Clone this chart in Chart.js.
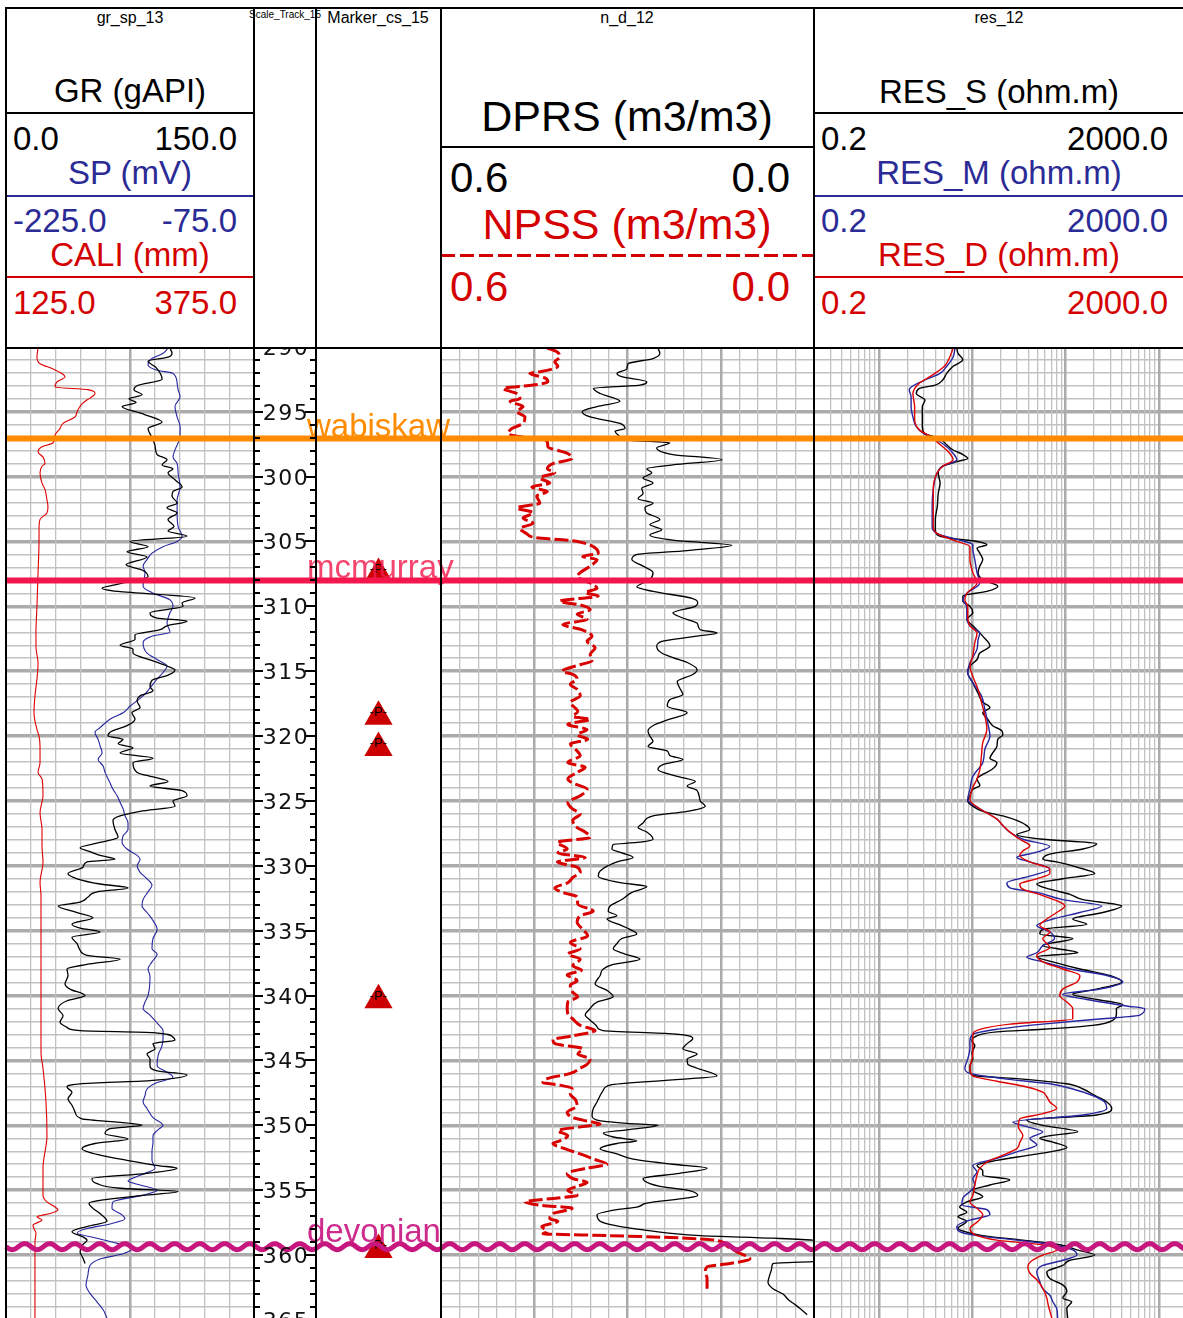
<!DOCTYPE html>
<html lang="en">
<head>
<meta charset="UTF-8" />
<title>Well log</title>
<script src="https://cdn.jsdelivr.net/npm/chart.js"></script>
<style>
  html, body { margin: 0; padding: 0; background: #fff; overflow: hidden; }
  body { font-family: "Liberation Sans", Arial, sans-serif; color: #000; }
  #log { position: relative; width: 1187px; height: 1318px; }
  .txt { position: absolute; white-space: nowrap; line-height: 1; transform: translate(-50%, -50%); }
  .txt.l { transform: translate(0, -50%); }
  .txt.r { transform: translate(-100%, -50%); }
  .sm { font-size: 16px; }
  .md { font-size: 33px; }
  .lg { font-size: 42px; }
  .ttl { font-size: 43px; }
  .blue { color: #2b2b96; }
  .red { color: #d40000; }
  .rule { position: absolute; height: 2px; }
  .frame { position: absolute; background: #000; z-index: 5; }
  canvas { position: absolute; top: 348px; }
</style>
</head>
<body>
<div id="log">
  <!-- gr_sp_13 -->
  <div class="txt sm" style="left:130px;top:18px">gr_sp_13</div>
  <div class="txt md" style="left:130px;top:90px">GR (gAPI)</div>
  <div class="rule" style="left:6px;top:112px;width:248px;background:#000"></div>
  <div class="txt md l" style="left:13px;top:137.5px">0.0</div>
  <div class="txt md r" style="left:237px;top:137.5px">150.0</div>
  <div class="txt md blue" style="left:130px;top:172px">SP (mV)</div>
  <div class="rule" style="left:6px;top:195px;width:248px;background:#2b2b96"></div>
  <div class="txt md l blue" style="left:13px;top:219.5px">-225.0</div>
  <div class="txt md r blue" style="left:237px;top:219.5px">-75.0</div>
  <div class="txt md red" style="left:130px;top:253.5px">CALI (mm)</div>
  <div class="rule" style="left:6px;top:276px;width:248px;background:#d40000"></div>
  <div class="txt md l red" style="left:13px;top:301.5px">125.0</div>
  <div class="txt md r red" style="left:237px;top:301.5px">375.0</div>

  <!-- depth scale / markers -->
  <div class="txt" style="left:285px;top:15px;font-size:10px">Scale_Track_15</div>
  <div class="txt sm" style="left:378px;top:18px">Marker_cs_15</div>

  <!-- n_d_12 -->
  <div class="txt sm" style="left:627px;top:18px">n_d_12</div>
  <div class="txt ttl" style="left:627px;top:116px">DPRS (m3/m3)</div>
  <div class="rule" style="left:441px;top:146px;width:373px;background:#000"></div>
  <div class="txt lg l" style="left:450px;top:178px">0.6</div>
  <div class="txt lg r" style="left:790px;top:178px">0.0</div>
  <div class="txt ttl red" style="left:627px;top:224px">NPSS (m3/m3)</div>
  <div class="rule" style="left:441px;top:254px;width:373px;height:3px;background:repeating-linear-gradient(to right,#d40000 0 14px,transparent 14px 19px)"></div>
  <div class="txt lg l red" style="left:450px;top:287px">0.6</div>
  <div class="txt lg r red" style="left:790px;top:287px">0.0</div>

  <!-- res_12 -->
  <div class="txt sm" style="left:999px;top:18px">res_12</div>
  <div class="txt md" style="left:999px;top:90.5px">RES_S (ohm.m)</div>
  <div class="rule" style="left:814px;top:112px;width:373px;background:#000"></div>
  <div class="txt md l" style="left:821px;top:138px">0.2</div>
  <div class="txt md r" style="left:1168px;top:138px">2000.0</div>
  <div class="txt md blue" style="left:999px;top:172px">RES_M (ohm.m)</div>
  <div class="rule" style="left:814px;top:195px;width:373px;background:#2b2b96"></div>
  <div class="txt md l blue" style="left:821px;top:220px">0.2</div>
  <div class="txt md r blue" style="left:1168px;top:220px">2000.0</div>
  <div class="txt md red" style="left:999px;top:254px">RES_D (ohm.m)</div>
  <div class="rule" style="left:814px;top:276px;width:373px;background:#d40000"></div>
  <div class="txt md l red" style="left:821px;top:301.5px">0.2</div>
  <div class="txt md r red" style="left:1168px;top:301.5px">2000.0</div>

  <canvas id="grTrack" width="248" height="970" style="left:6px"></canvas>
  <canvas id="markerTrack" width="125" height="970" style="left:316px"></canvas>
  <canvas id="ndTrack" width="373" height="970" style="left:441px"></canvas>
  <canvas id="resTrack" width="373" height="970" style="left:814px"></canvas>
  <canvas id="tops" width="1187" height="970" style="left:0;z-index:3"></canvas>
  <canvas id="scaleTrack" width="62" height="970" style="left:254px;z-index:4"></canvas>

  <div class="frame" style="left:5px;top:7px;width:1182px;height:2px"></div>
  <div class="frame" style="left:5px;top:347px;width:1182px;height:2px"></div>
  <div class="frame" style="left:5px;top:7px;width:2px;height:1311px"></div>
  <div class="frame" style="left:253px;top:7px;width:2px;height:1311px"></div>
  <div class="frame" style="left:315px;top:7px;width:2px;height:1311px"></div>
  <div class="frame" style="left:440px;top:7px;width:2px;height:1311px"></div>
  <div class="frame" style="left:813px;top:7px;width:2px;height:1311px"></div>
</div>

<script>
// depth window shown (m)
const DEPTH_TOP = 290.09, DEPTH_BASE = 364.85;
const depthLabels = [290, 295, 300, 305, 310, 315, 320, 325, 330, 335, 340, 345, 350, 355, 360, 365];

// GR (gAPI)
const grDepth = [
  290.1, 290.5, 290.8, 291.1, 291.6, 292.5, 293.0, 293.3, 293.7, 294.0,
  294.3, 294.6, 295.2, 295.8, 296.3, 297.0, 297.6, 298.3, 298.7, 299.1,
  299.4, 299.7, 300.25, 300.8, 301.15, 301.5, 302.05, 302.4, 302.8, 303.3,
  303.85, 304.2, 304.6, 305.0, 305.4, 305.8, 306.2, 306.8, 307.2, 307.7,
  308.3, 308.6, 308.85, 309.35, 309.75, 310.0, 310.5, 310.9, 311.15, 311.5,
  311.8, 312.2, 312.55, 313.0, 313.3, 313.6, 314.2, 314.6, 314.9, 315.3,
  315.7, 316.2, 316.5, 316.9, 317.3, 317.8, 318.2, 318.7, 319.2, 319.7,
  320.0, 320.25, 320.6, 320.9, 321.3, 321.7, 322.05, 322.8, 323.15, 323.5,
  323.85, 324.2, 324.6, 325.0, 325.4, 325.8, 326.15, 326.5, 327.2, 327.8,
  328.2, 328.6, 328.9, 329.2, 329.5, 329.7, 330.1, 330.6, 331.0, 331.4,
  331.7, 332.0, 332.4, 332.8, 333.1, 333.6, 334.0, 334.5, 334.8, 335.1,
  335.5, 336.0, 336.5, 336.9, 337.2, 337.6, 337.95, 338.45, 339.1, 339.5,
  340.0, 340.4, 341.0, 341.55, 342.05, 342.45, 342.7, 342.85, 343.2, 343.45,
  343.7, 344.1, 344.5, 344.9, 345.4, 345.8, 346.1, 346.55, 346.8, 347.05,
  347.45, 347.95, 348.45, 348.95, 349.5, 349.75, 350.0, 350.25, 350.65, 351.05,
  351.4, 351.8, 352.3, 352.7, 353.1, 353.3, 353.7, 354.1, 354.5, 354.85,
  355.1, 355.4, 355.75, 356.0, 356.4, 356.8, 357.4, 357.8, 358.2, 358.6,
  358.85, 359.25, 359.75, 360.25, 360.65
];
const grValue = [
  99.2, 100.4, 98.0, 85.9, 90.8, 94.4, 79.3, 77.4, 82.3, 74.4,
  78.7, 70.2, 83.5, 94.4, 85.9, 88.3, 90.1, 91.4, 97.4, 94.4,
  101.0, 98.0, 102.2, 106.5, 101.0, 100.4, 103.5, 97.4, 103.5, 98.0,
  101.6, 98.0, 109.5, 75.0, 85.9, 73.2, 85.3, 72.6, 82.3, 85.9,
  67.2, 58.1, 67.8, 114.3, 106.5, 107.1, 87.1, 91.4, 109.5, 97.4,
  93.2, 78.0, 78.0, 69.0, 76.8, 76.8, 88.9, 97.4, 102.2, 98.0,
  88.3, 87.1, 88.9, 81.1, 79.3, 81.1, 76.2, 78.0, 73.2, 62.9,
  61.7, 70.8, 67.8, 76.8, 69.0, 88.9, 76.8, 79.3, 88.9, 98.0,
  87.1, 106.5, 109.5, 101.0, 102.2, 81.1, 69.0, 64.7, 65.9, 67.8,
  56.9, 44.8, 50.8, 56.9, 65.9, 49.0, 46.6, 37.5, 43.0, 56.9,
  73.8, 55.1, 49.6, 44.8, 31.5, 43.0, 52.6, 39.9, 44.8, 56.9,
  39.9, 43.0, 44.8, 49.0, 69.0, 49.0, 36.9, 37.5, 35.7, 38.7,
  47.8, 36.9, 31.5, 34.5, 32.7, 36.9, 44.8, 88.9, 101.0, 102.2,
  88.9, 90.1, 85.3, 87.1, 87.1, 91.4, 109.5, 87.1, 44.8, 36.9,
  39.9, 37.5, 39.9, 41.7, 46.0, 67.2, 82.3, 62.9, 59.9, 73.8,
  53.8, 46.0, 56.9, 73.2, 92.0, 103.5, 85.3, 52.0, 55.1, 69.0,
  104.1, 82.9, 58.7, 50.2, 52.6, 56.9, 61.1, 49.0, 39.9, 46.6,
  49.0, 46.0, 44.8, 46.6, 47.8
];

// SP (mV)
const spDepth = [
  290.1, 290.5, 291.0, 291.4, 291.8, 292.05, 292.8, 293.3, 293.85, 294.6,
  295.4, 296.15, 296.9, 297.4, 297.95, 298.5, 299.0, 299.7, 300.8, 301.8,
  302.8, 303.85, 304.6, 305.0, 305.4, 305.9, 306.4, 306.9, 307.4, 308.45,
  308.95, 309.5, 310.0, 310.5, 311.3, 312.0, 312.3, 312.8, 313.6, 314.1,
  314.6, 315.1, 315.6, 316.3, 316.9, 317.7, 318.2, 318.7, 319.35, 319.7,
  320.25, 320.75, 321.3, 321.8, 322.3, 322.8, 323.6, 324.1, 324.6, 325.1,
  325.6, 326.15, 326.7, 327.2, 327.7, 328.2, 328.7, 329.2, 329.5, 330.0,
  330.5, 331.0, 331.5, 332.0, 332.6, 333.1, 333.6, 334.1, 334.9, 335.6,
  336.4, 336.8, 337.4, 337.95, 338.5, 340.0, 340.5, 341.0, 341.5, 342.2,
  342.7, 343.2, 343.85, 344.6, 345.4, 345.9, 346.3, 346.7, 347.2, 347.7,
  348.2, 348.7, 349.4, 350.0, 350.4, 350.8, 351.3, 352.0, 352.7, 353.3,
  353.85, 354.3, 354.6, 355.0, 355.4, 355.9, 356.4, 356.9, 357.2, 357.6,
  357.95, 358.3, 358.7, 359.1, 359.5, 359.9, 360.3, 360.8, 361.5, 362.3,
  362.95, 363.6, 364.2, 364.85
];
const spValue = [
  -127.0, -130.0, -137.9, -139.1, -133.6, -124.0, -121.5, -120.9, -119.7, -122.8,
  -121.5, -119.7, -119.7, -120.9, -122.8, -124.0, -121.5, -120.9, -119.7, -121.5,
  -121.5, -120.9, -118.5, -121.5, -130.0, -136.7, -139.7, -142.1, -140.9, -142.1,
  -136.7, -125.8, -124.0, -125.8, -127.6, -125.8, -136.7, -142.1, -139.7, -133.6,
  -127.6, -130.0, -133.6, -137.9, -142.1, -150.0, -154.2, -162.1, -168.1, -171.2,
  -169.3, -168.1, -166.9, -169.3, -166.3, -165.1, -162.1, -160.3, -157.8, -156.0,
  -154.2, -153.0, -151.2, -151.2, -154.2, -154.8, -151.8, -145.7, -143.9, -145.7,
  -143.9, -139.7, -136.7, -139.1, -142.1, -142.7, -139.7, -136.7, -133.6, -136.1,
  -136.7, -133.6, -136.7, -139.1, -137.9, -139.1, -140.9, -142.1, -137.9, -133.0,
  -130.0, -130.0, -130.6, -133.0, -133.6, -127.6, -124.0, -133.6, -139.7, -140.9,
  -142.1, -139.7, -136.1, -130.0, -133.6, -136.1, -136.1, -136.7, -136.7, -134.9,
  -143.9, -151.2, -143.9, -133.6, -142.7, -160.3, -160.9, -154.8, -153.0, -162.1,
  -176.0, -182.0, -169.9, -157.8, -148.8, -154.2, -168.1, -174.2, -175.4, -176.6,
  -174.2, -170.0, -166.3, -163.9
];

// CALI (mm)
const caliDepth = [
  290.1, 290.8, 291.3, 291.7, 292.05, 292.3, 292.7, 293.1, 293.3, 293.6,
  293.85, 294.1, 294.4, 294.6, 295.0, 295.4, 295.9, 296.3, 296.8, 297.4,
  297.7, 298.1, 298.5, 299.0, 299.2, 299.7, 300.5, 301.0, 301.8, 302.3,
  302.8, 303.3, 303.85, 304.9, 307.4, 310.0, 312.0, 313.1, 314.4, 315.6,
  316.9, 318.2, 319.5, 320.0, 320.8, 322.05, 322.8, 323.3, 324.6, 325.9,
  327.2, 328.5, 329.7, 331.3, 332.3, 334.9, 338.5, 344.4, 345.6, 348.2,
  350.8, 353.3, 355.4, 355.9, 356.3, 356.5, 356.8, 357.05, 357.3, 357.7,
  357.95, 358.3, 359.0, 361.0, 364.85
];
const caliValue = [
  157.3, 156.2, 159.3, 172.4, 181.4, 184.5, 176.4, 174.4, 207.7, 214.7,
  211.7, 206.6, 201.6, 199.6, 196.6, 194.6, 182.5, 179.4, 174.4, 172.4,
  161.3, 157.3, 162.3, 164.3, 161.3, 159.3, 161.3, 164.3, 166.3, 167.3,
  166.3, 159.3, 158.3, 158.3, 157.3, 156.2, 155.2, 155.2, 157.3, 156.2,
  154.2, 153.2, 156.2, 158.3, 159.3, 159.3, 157.3, 161.3, 162.3, 159.3,
  161.3, 161.3, 162.3, 159.3, 160.3, 160.3, 160.3, 160.3, 162.3, 165.3,
  166.3, 162.3, 162.3, 166.3, 174.4, 177.4, 169.4, 156.2, 161.3, 152.2,
  153.2, 155.2, 154.2, 154.2, 154.2
];

// DPRS (m3/m3)
const dprsDepth = [
  290.1, 290.5, 290.9, 291.3, 291.7, 292.05, 292.3, 292.7, 292.95, 293.2,
  293.6, 294.2, 294.6, 295.0, 295.4, 295.9, 296.3, 296.5, 296.8, 297.2,
  297.4, 297.8, 298.3, 298.7, 299.1, 299.4, 299.7, 300.1, 300.5, 300.9,
  301.3, 301.7, 302.05, 302.4, 302.8, 303.3, 303.7, 304.1, 304.5, 304.9,
  305.3, 305.7, 306.0, 306.4, 306.9, 307.4, 307.95, 308.5, 308.85, 309.4,
  309.75, 310.0, 310.5, 310.9, 311.3, 311.8, 312.05, 312.3, 312.7, 313.1,
  313.6, 313.95, 314.35, 314.9, 315.25, 315.8, 316.3, 316.8, 317.2, 317.7,
  318.2, 318.7, 319.2, 319.6, 320.0, 320.4, 320.8, 321.15, 321.5, 321.8,
  322.2, 322.6, 323.1, 323.5, 323.85, 324.2, 325.0, 325.4, 325.8, 326.15,
  326.7, 327.05, 327.4, 327.95, 328.2, 328.35, 328.7, 329.0, 329.35, 329.7,
  330.4, 330.8, 331.3, 331.6, 332.05, 332.6, 333.1, 333.5, 333.85, 334.1,
  334.5, 334.9, 335.25, 335.6, 336.0, 336.4, 336.8, 337.2, 337.6, 337.95,
  338.45, 339.1, 339.6, 340.1, 340.5, 341.0, 341.5, 341.9, 342.4, 342.7,
  342.95, 343.3, 343.7, 344.1, 344.5, 344.9, 345.3, 345.6, 346.2, 346.5,
  346.9, 347.3, 347.7, 348.2, 348.7, 349.25, 349.6, 349.85, 350.0, 350.35,
  350.6, 350.9, 351.2, 351.4, 351.8, 352.2, 352.6, 353.0, 353.3, 353.7,
  354.1, 354.5, 354.7, 355.0, 355.4, 355.6, 356.0, 356.3, 356.5, 356.9,
  357.4, 357.7, 358.1, 358.5, 358.7, 358.85, 359.3, 359.9, 360.5, 360.65,
  361.0, 361.5, 362.1, 362.6, 363.0, 363.4, 363.7, 364.1, 364.6
];
const dprsValue = [
  0.251, 0.248, 0.259, 0.299, 0.301, 0.317, 0.309, 0.269, 0.280, 0.355,
  0.344, 0.312, 0.349, 0.373, 0.360, 0.312, 0.304, 0.320, 0.315, 0.296,
  0.232, 0.253, 0.227, 0.148, 0.227, 0.269, 0.261, 0.275, 0.259, 0.277,
  0.275, 0.283, 0.259, 0.272, 0.269, 0.248, 0.264, 0.245, 0.264, 0.227,
  0.132, 0.204, 0.285, 0.293, 0.275, 0.259, 0.264, 0.285, 0.259, 0.195,
  0.187, 0.191, 0.227, 0.211, 0.188, 0.183, 0.156, 0.188, 0.245, 0.253,
  0.245, 0.227, 0.203, 0.188, 0.195, 0.220, 0.216, 0.211, 0.232, 0.236,
  0.204, 0.232, 0.259, 0.267, 0.264, 0.259, 0.267, 0.236, 0.232, 0.211,
  0.243, 0.251, 0.220, 0.191, 0.204, 0.188, 0.183, 0.175, 0.204, 0.259,
  0.275, 0.283, 0.269, 0.259, 0.285, 0.323, 0.325, 0.309, 0.291, 0.317,
  0.344, 0.347, 0.312, 0.269, 0.293, 0.309, 0.328, 0.331, 0.317, 0.333,
  0.315, 0.296, 0.285, 0.309, 0.317, 0.323, 0.304, 0.280, 0.323, 0.339,
  0.344, 0.352, 0.333, 0.323, 0.349, 0.360, 0.368, 0.360, 0.349, 0.339,
  0.227, 0.195, 0.204, 0.211, 0.188, 0.204, 0.203, 0.188, 0.156, 0.227,
  0.328, 0.339, 0.344, 0.349, 0.355, 0.357, 0.349, 0.301, 0.251, 0.301,
  0.339, 0.323, 0.285, 0.317, 0.344, 0.317, 0.291, 0.227, 0.172, 0.216,
  0.275, 0.264, 0.248, 0.204, 0.187, 0.204, 0.269, 0.285, 0.317, 0.349,
  0.344, 0.323, 0.269, 0.183, 0.066, 0.003, -0.026, -0.034, 0.003, 0.066,
  0.068, 0.071, 0.074, 0.066, 0.050, 0.042, 0.034, 0.023, 0.011
];

// NPSS (m3/m3)
const npssDepth = [
  290.1, 290.4, 290.8, 291.15, 291.5, 291.9, 292.05, 292.4, 292.7, 292.95,
  293.2, 293.6, 294.0, 294.2, 294.6, 295.0, 295.4, 295.9, 296.3, 296.7,
  297.3, 297.7, 298.2, 298.6, 299.0, 299.4, 299.7, 300.1, 300.5, 300.8,
  301.15, 301.5, 302.05, 302.4, 302.8, 303.2, 303.6, 304.0, 304.4, 304.7,
  304.9, 305.05, 305.4, 305.9, 306.15, 306.4, 306.9, 307.4, 307.7, 308.2,
  308.6, 308.95, 309.2, 309.6, 309.9, 310.25, 310.6, 311.0, 311.4, 311.8,
  312.3, 312.7, 313.2, 313.7, 314.2, 314.5, 315.0, 315.25, 315.6, 316.0,
  316.4, 316.9, 317.4, 318.1, 318.5, 318.7, 319.1, 319.5, 319.9, 320.25,
  320.6, 321.15, 321.5, 322.05, 322.4, 322.8, 323.3, 323.6, 324.1, 324.6,
  325.1, 325.6, 326.0, 326.5, 327.05, 327.4, 327.8, 328.2, 328.7, 329.0,
  329.35, 329.7, 330.1, 330.5, 330.9, 331.3, 331.7, 332.05, 332.4, 332.95,
  333.5, 333.85, 334.35, 334.9, 335.4, 335.9, 336.4, 336.8, 337.2, 337.7,
  338.05, 338.4, 338.85, 339.2, 339.75, 340.1, 340.5, 341.0, 341.4, 341.8,
  342.3, 342.7, 343.1, 343.4, 343.7, 344.1, 344.5, 344.9, 345.3, 345.6,
  346.0, 346.4, 346.7, 346.9, 347.2, 347.6, 348.0, 348.5, 349.0, 349.4,
  349.6, 349.9, 350.1, 350.4, 350.8, 351.2, 351.4, 351.8, 352.2, 352.6,
  353.0, 353.3, 353.7, 354.1, 354.4, 354.7, 355.0, 355.4, 355.6, 355.9,
  356.15, 356.4, 356.8, 357.2, 357.4, 357.8, 358.2, 358.35, 358.5, 358.65,
  358.85, 359.3, 359.75, 360.3, 360.65, 360.9, 361.3, 361.8, 362.3, 362.8
];
const npssValue = [
  0.429, 0.413, 0.409, 0.417, 0.412, 0.438, 0.457, 0.433, 0.428, 0.452,
  0.500, 0.478, 0.473, 0.489, 0.468, 0.478, 0.465, 0.468, 0.486, 0.492,
  0.429, 0.428, 0.397, 0.389, 0.420, 0.429, 0.417, 0.441, 0.425, 0.454,
  0.429, 0.446, 0.441, 0.478, 0.452, 0.468, 0.452, 0.473, 0.462, 0.449,
  0.397, 0.376, 0.355, 0.347, 0.372, 0.349, 0.360, 0.376, 0.381, 0.360,
  0.349, 0.368, 0.347, 0.409, 0.376, 0.360, 0.381, 0.365, 0.404, 0.374,
  0.357, 0.365, 0.352, 0.360, 0.357, 0.376, 0.405, 0.388, 0.381, 0.392,
  0.381, 0.376, 0.392, 0.380, 0.388, 0.360, 0.396, 0.365, 0.381, 0.364,
  0.392, 0.381, 0.376, 0.396, 0.368, 0.381, 0.396, 0.389, 0.365, 0.376,
  0.396, 0.389, 0.376, 0.388, 0.381, 0.368, 0.360, 0.413, 0.397, 0.412,
  0.368, 0.413, 0.381, 0.376, 0.388, 0.396, 0.417, 0.404, 0.381, 0.380,
  0.355, 0.376, 0.381, 0.372, 0.364, 0.392, 0.376, 0.396, 0.376, 0.388,
  0.374, 0.397, 0.381, 0.392, 0.388, 0.380, 0.396, 0.397, 0.396, 0.388,
  0.376, 0.352, 0.388, 0.420, 0.417, 0.372, 0.380, 0.360, 0.365, 0.376,
  0.392, 0.429, 0.436, 0.409, 0.389, 0.392, 0.384, 0.381, 0.397, 0.388,
  0.372, 0.344, 0.372, 0.412, 0.396, 0.409, 0.420, 0.401, 0.376, 0.355,
  0.333, 0.365, 0.397, 0.388, 0.365, 0.381, 0.396, 0.381, 0.412, 0.465,
  0.441, 0.389, 0.420, 0.425, 0.412, 0.438, 0.429, 0.436, 0.330, 0.230,
  0.160, 0.140, 0.124, 0.103, 0.135, 0.172, 0.175, 0.172, 0.172, 0.172
];

// RES_S (ohm.m)
const resSDepth = [
  290.1, 290.5, 291.0, 291.5, 292.05, 292.55, 292.95, 293.2, 293.6, 294.1,
  294.6, 296.15, 296.7, 296.9, 297.2, 297.55, 297.95, 298.3, 298.6, 298.85,
  299.2, 299.75, 300.5, 301.3, 302.3, 303.3, 304.1, 304.5, 304.75, 305.0,
  305.25, 305.5, 305.9, 306.4, 306.9, 307.4, 307.95, 308.45, 308.85, 309.2,
  309.6, 310.0, 310.5, 311.0, 311.5, 312.05, 312.3, 313.05, 313.6, 314.1,
  314.6, 315.1, 315.9, 316.7, 317.4, 317.8, 318.2, 318.7, 319.2, 319.6,
  319.9, 320.25, 320.8, 321.3, 321.7, 322.05, 322.6, 322.95, 323.3, 323.8,
  324.1, 324.6, 325.0, 325.4, 325.8, 326.15, 326.5, 326.9, 327.2, 327.6,
  327.95, 328.3, 328.7, 329.1, 329.5, 329.7, 330.1, 330.6, 331.0, 331.4,
  331.8, 332.2, 332.6, 333.1, 333.6, 334.1, 334.5, 334.9, 335.25, 335.6,
  336.15, 336.7, 337.0, 337.4, 337.95, 338.45, 338.95, 339.5, 339.9, 340.3,
  340.7, 341.0, 341.4, 341.9, 342.3, 342.6, 342.8, 343.1, 343.5, 343.85,
  344.4, 344.9, 345.4, 345.8, 346.15, 346.4, 346.8, 347.2, 347.7, 348.2,
  348.7, 349.2, 349.6, 350.0, 350.5, 350.8, 351.0, 351.3, 351.7, 352.05,
  352.3, 352.7, 353.1, 353.5, 353.85, 354.2, 354.6, 355.0, 355.5, 355.9,
  356.3, 356.7, 357.05, 357.4, 357.95, 358.3, 358.5, 358.85, 359.2, 359.6,
  360.0, 360.4, 360.8, 361.3, 361.8, 362.3, 362.8, 363.3, 363.6, 364.1,
  364.85
];
const resSValue = [
  6.8, 7.0, 7.9, 6.2, 5.3, 4.8, 4.0, 2.7, 2.5, 3.1,
  2.9, 2.9, 3.1, 3.8, 4.7, 5.3, 6.2, 7.9, 8.9, 6.8,
  4.8, 4.3, 4.5, 4.3, 4.2, 4.0, 4.0, 4.2, 5.7, 11.2,
  14.3, 11.2, 12.0, 12.9, 12.0, 11.5, 12.9, 18.7, 14.3, 7.9,
  7.9, 9.4, 10.1, 8.7, 10.1, 12.0, 12.9, 15.4, 12.0, 11.2,
  9.4, 8.9, 10.1, 11.5, 12.9, 15.4, 12.9, 14.6, 16.5, 20.7,
  21.2, 18.7, 18.3, 16.5, 15.4, 18.3, 16.0, 12.9, 11.2, 12.0,
  10.1, 9.4, 8.9, 10.1, 12.9, 21.2, 29.9, 38.3, 41.3, 29.9,
  56.8, 215, 153, 67.6, 56.8, 80, 132, 205, 93, 49,
  67.6, 111, 153, 399, 250, 119, 168, 56.8, 52.8, 119,
  56.8, 135, 49, 72.8, 142, 297, 399, 215, 119, 215,
  409, 350, 350, 320, 195, 56.8, 18.3, 11.2, 9.9, 10.6,
  9.9, 10.1, 9.4, 9.4, 10.1, 29.9, 103, 153, 205, 276,
  312, 215, 38.3, 56.8, 135, 67.6, 52.8, 72.8, 103, 67.6,
  41.3, 18.3, 11.2, 12.9, 12.9, 25.2, 15.4, 10.1, 12.9, 8.7,
  7.3, 8.7, 7.0, 8.7, 7.0, 9.4, 12.9, 34.7, 86.5, 132,
  205, 111, 93, 62.7, 67.6, 93, 103, 93, 116, 103,
  105
];

// RES_M (ohm.m)
const resMDepth = [
  290.1, 290.8, 291.5, 292.05, 292.6, 293.3, 293.85, 294.6, 295.4, 296.15,
  296.7, 297.2, 297.7, 298.2, 298.7, 299.2, 299.7, 301.0, 302.3, 303.85,
  304.4, 304.9, 305.25, 305.6, 306.4, 307.4, 308.2, 309.0, 309.5, 310.0,
  310.8, 311.5, 312.05, 312.55, 313.3, 314.35, 315.1, 315.9, 316.9, 317.95,
  319.0, 320.0, 321.0, 322.05, 323.1, 324.1, 324.9, 325.6, 326.4, 326.9,
  327.4, 327.95, 328.5, 328.95, 329.35, 329.7, 330.25, 330.8, 331.3, 331.7,
  332.05, 332.6, 333.1, 333.6, 334.1, 334.6, 335.1, 335.6, 336.15, 336.7,
  337.05, 337.4, 337.95, 338.45, 338.95, 339.5, 339.9, 340.3, 340.8, 341.0,
  341.5, 341.8, 342.2, 342.6, 343.0, 343.5, 344.1, 344.9, 345.6, 346.0,
  346.4, 346.8, 347.2, 347.7, 348.2, 348.7, 349.2, 349.75, 350.1, 350.5,
  351.0, 351.5, 352.05, 352.55, 353.1, 353.6, 354.1, 354.6, 355.1, 355.6,
  356.15, 356.5, 356.9, 357.3, 357.8, 358.2, 358.5, 358.85, 359.2, 359.6,
  360.0, 360.4, 360.8, 361.3, 362.05, 362.6, 363.1, 363.6, 364.1, 364.85
];
const resMValue = [
  6.5, 6.2, 5.3, 4.5, 3.0, 2.1, 2.2, 2.2, 2.3, 2.5,
  3.0, 4.2, 5.3, 6.2, 6.8, 4.8, 4.2, 3.8, 3.7, 3.7,
  4.2, 7.3, 10.1, 10.1, 10.6, 11.2, 12.0, 8.7, 7.9, 8.7,
  8.7, 9.4, 12.0, 11.5, 11.2, 9.4, 8.9, 10.1, 12.5, 13.6,
  14.6, 15.4, 13.6, 12.9, 10.1, 9.4, 8.9, 12.0, 18.3, 21.2,
  25.2, 34.7, 67.6, 49, 29.9, 41.3, 67.6, 41.3, 23.4, 25.2,
  49, 93, 244, 142, 72.8, 49, 67.6, 76, 56.8, 49,
  38.3, 56.8, 111, 276, 409, 232, 93, 168, 450, 704,
  625, 232, 56.8, 18.3, 10.1, 9.4, 9.4, 8.9, 8.3, 9.4,
  21.2, 67.6, 119, 195, 262, 276, 153, 27.1, 38.3, 56.8,
  41.3, 49, 29.9, 18.3, 10.1, 11.2, 10.1, 10.6, 9.4, 7.9,
  7.7, 14.3, 15.4, 9.4, 6.8, 7.3, 11.2, 29.9, 72.8, 119,
  132, 93, 56.8, 49, 52.8, 56.8, 67.6, 72.8, 80, 82
];

// RES_D (ohm.m)
const resDDepth = [
  290.1, 290.8, 291.5, 292.3, 292.8, 293.6, 294.6, 295.6, 296.4, 296.9,
  297.7, 298.2, 298.7, 299.2, 299.7, 301.0, 302.3, 303.85, 304.4, 304.9,
  305.4, 306.4, 307.4, 308.2, 309.0, 309.5, 310.0, 310.8, 311.5, 312.05,
  312.8, 313.8, 314.6, 315.4, 316.4, 317.4, 318.45, 319.5, 320.5, 321.5,
  322.6, 323.3, 324.1, 324.9, 325.6, 326.4, 326.9, 327.4, 327.95, 328.45,
  328.85, 329.2, 329.7, 330.25, 330.6, 331.0, 331.4, 331.8, 332.3, 333.1,
  333.6, 334.1, 334.6, 335.1, 335.6, 336.3, 336.9, 337.4, 337.95, 338.45,
  338.95, 339.5, 340.0, 340.5, 341.0, 341.8, 342.2, 342.6, 343.0, 343.6,
  344.4, 344.9, 345.6, 346.2, 346.6, 347.05, 347.45, 347.8, 348.2, 348.7,
  349.1, 349.5, 350.1, 350.8, 351.3, 351.8, 352.3, 352.7, 353.3, 353.85,
  354.6, 355.4, 355.9, 356.4, 356.9, 357.4, 357.95, 358.5, 358.85, 359.2,
  359.6, 360.0, 360.4, 360.9, 361.4, 361.9, 362.55, 363.3, 363.85, 364.85
];
const resDValue = [
  6.2, 5.7, 5.0, 3.5, 2.7, 2.3, 2.4, 2.4, 2.7, 3.5,
  4.8, 5.7, 6.2, 4.8, 4.2, 3.8, 3.8, 3.8, 4.2, 6.2,
  9.4, 9.4, 10.1, 11.2, 8.7, 8.3, 8.9, 8.9, 9.4, 11.2,
  10.6, 10.1, 9.4, 10.1, 11.5, 12.5, 13.6, 14.3, 12.9, 12.5,
  12.0, 11.2, 9.9, 9.4, 12.0, 18.3, 21.2, 25.2, 32.2, 41.3,
  34.7, 32.2, 41.3, 67.6, 67.6, 49, 32.2, 34.7, 56.8, 97.8,
  80, 62.7, 52.8, 67.6, 56.8, 67.6, 49, 56.8, 93, 142,
  132, 93, 86.5, 103, 119, 119, 25.2, 12.0, 10.1, 10.1,
  10.1, 9.9, 9.4, 10.1, 18.3, 38.3, 56.8, 62.7, 67.6, 80,
  56.8, 32.2, 31, 34.7, 32.2, 29.9, 21.2, 15.4, 12.0, 11.2,
  10.6, 10.1, 9.4, 11.2, 12.9, 11.5, 9.4, 11.2, 18.3, 56.8,
  80, 56.8, 44, 39.3, 41.3, 49, 56.8, 62.7, 65, 71
];

// core/pick markers and formation tops
const markerDepth = [307.5, 318.5, 320.9, 340.35, 359.6];
const topName = ['wabiskaw', 'mcmurray', 'devonian'];
const topDepth = [297.07, 308.0, 359.35];

const topStyle = {
  wabiskaw: { line: '#ff8c00', text: '#ff8c00', width: 6, lift: 2 },
  mcmurray: { line: '#f4164c', text: 'rgba(240,28,78,0.82)', width: 6, lift: 2 },
  devonian: { line: '#c8167f', text: '#cc2a8c', width: 5, lift: 5, wave: true }
};

const BLUE = '#2626a0', RED = '#e00000';
const GRID_MINOR = '#c2c2c2', GRID_MAJOR = '#ababab';

const pts = (depth, value) => depth.map((d, i) => ({ x: value[i], y: d }));

// grid positions
const depthGrid = [];
for (let d = 291; d <= 364; d++) depthGrid.push(d);

function depthScale(showGrid) {
  return {
    type: 'linear', reverse: true, min: DEPTH_TOP, max: DEPTH_BASE,
    display: showGrid,
    ticks: { display: false },
    border: { display: false },
    grid: {
      drawTicks: false,
      color: c => c.tick.value % 5 === 0 ? GRID_MAJOR : GRID_MINOR,
      lineWidth: c => c.tick.value % 5 === 0 ? 3.5 : 1.5
    },
    afterBuildTicks: axis => { axis.ticks = depthGrid.map(v => ({ value: v })); }
  };
}

function gridAxis(base, values, isMajor) {
  return Object.assign({
    display: true,
    ticks: { display: false },
    border: { display: false },
    grid: {
      drawTicks: false,
      color: c => isMajor(c.tick.value) ? GRID_MAJOR : GRID_MINOR,
      lineWidth: c => isMajor(c.tick.value) ? 2.5 : 1.3
    },
    afterBuildTicks: axis => { axis.ticks = values.map(v => ({ value: v })); }
  }, base);
}

function curve(depth, value, axis, color, width, dash) {
  return {
    data: pts(depth, value), xAxisID: axis, yAxisID: 'y',
    borderColor: color, borderWidth: width, borderDash: dash || [],
    pointRadius: 0, fill: false, cubicInterpolationMode: 'monotone'
  };
}

function makeTrack(id, type, datasets, xScales, plugins) {
  return new Chart(document.getElementById(id), {
    type: type,
    data: { datasets: datasets },
    options: {
      indexAxis: 'y', responsive: false, animation: false, events: [],
      layout: { padding: 0, autoPadding: false },
      plugins: { legend: { display: false }, tooltip: { enabled: false } },
      scales: Object.assign({ y: depthScale(type === 'line' && datasets.length > 0) }, xScales)
    },
    plugins: plugins || []
  });
}

// --- GR / SP / CALI
const grTicks = [15, 30, 45, 60, 75, 90, 105, 120, 135];
const grChart = makeTrack('grTrack', 'line', [
  curve(grDepth, grValue, 'xGR', '#000', 1.3),
  curve(spDepth, spValue, 'xSP', BLUE, 1.1),
  curve(caliDepth, caliValue, 'xCALI', RED, 1.1)
], {
  xGR: gridAxis({ type: 'linear', min: 0, max: 150, position: 'top' }, grTicks, v => v === 75),
  xSP: { type: 'linear', min: -225, max: -75, display: false },
  xCALI: { type: 'linear', min: 125, max: 375, display: false }
});

// --- depth ruler
const depthRuler = {
  id: 'depthRuler',
  afterDraw(chart) {
    const { ctx, chartArea: a } = chart;
    const y = chart.scales.y;
    ctx.save();
    ctx.strokeStyle = '#000';
    ctx.lineWidth = 2;
    for (let d = 290; d <= 365; d++) {
      const py = Math.round(y.getPixelForValue(d));
      const major = d % 5 === 0;
      ctx.beginPath();
      ctx.moveTo(a.left, py); ctx.lineTo(a.left + (major ? 9 : 6), py);
      ctx.moveTo(a.right, py); ctx.lineTo(a.right - (major ? 11 : 6), py);
      ctx.stroke();
    }
    ctx.fillStyle = '#111';
    ctx.font = '22px "DejaVu Sans"';
    ctx.letterSpacing = '1.5px';
    ctx.textAlign = 'center';
    ctx.textBaseline = 'alphabetic';
    depthLabels.forEach(d => {
      ctx.fillText(String(d), (a.left + a.right) / 2 + 1, y.getPixelForValue(d) + 8);
    });
    ctx.restore();
  }
};
makeTrack('scaleTrack', 'line', [], { x: { type: 'linear', min: 0, max: 1, display: false } }, [depthRuler]);

// --- markers
const markerCaption = {
  id: 'markerCaption',
  afterDatasetsDraw(chart) {
    const ctx = chart.ctx;
    ctx.save();
    ctx.fillStyle = '#000';
    ctx.font = '13px "Liberation Sans"';
    ctx.textAlign = 'center';
    ctx.textBaseline = 'middle';
    chart.getDatasetMeta(0).data.forEach(p => ctx.fillText('-P-', p.x, p.y - 4));
    ctx.restore();
  }
};
makeTrack('markerTrack', 'scatter', [{
  data: markerDepth.map(d => ({ x: 0.5, y: d })),
  pointStyle: 'triangle', pointRadius: 16.3, backgroundColor: '#cc0000', borderWidth: 0
}], { x: { type: 'linear', min: 0, max: 1, display: false } }, [markerCaption]);

// --- neutron / density porosity
const ndTicks = [];
for (let k = 1; k < 20; k++) ndTicks.push(+(k * 0.03).toFixed(2));
makeTrack('ndTrack', 'line', [
  curve(npssDepth, npssValue, 'xND', '#d90000', 3, [14, 4]),
  curve(dprsDepth, dprsValue, 'xND', '#000', 1.3)
], {
  xND: gridAxis({ type: 'linear', min: 0, max: 0.6, reverse: true, position: 'top' },
    ndTicks, v => Math.round(v * 100) % 15 === 0)
});

// --- resistivity
const resTicks = [];
[0.1, 1, 10, 100, 1000].forEach(dec => {
  for (let m = 1; m <= 9; m++) {
    const v = +(m * dec).toPrecision(3);
    if (v > 0.2 && v < 2000) resTicks.push(v);
  }
});
makeTrack('resTrack', 'line', [
  curve(resDDepth, resDValue, 'xRES', RED, 1.4),
  curve(resMDepth, resMValue, 'xRES', BLUE, 1.4),
  curve(resSDepth, resSValue, 'xRES', '#000', 1.4)
], {
  xRES: gridAxis({ type: 'logarithmic', min: 0.2, max: 2000, position: 'top' },
    resTicks, v => [1, 10, 100, 1000].includes(v))
});

// --- formation tops across all tracks
(function drawTops() {
  const cv = document.getElementById('tops');
  const ctx = cv.getContext('2d');
  const ys = grChart.scales.y;
  topName.forEach((name, i) => {
    const st = topStyle[name];
    const y = ys.getPixelForValue(topDepth[i]);
    ctx.strokeStyle = st.line;
    ctx.lineWidth = st.width;
    ctx.beginPath();
    if (st.wave) {
      for (let x = 6; x <= cv.width; x++) {
        const yy = y + 3 * Math.sin((x - 6) / 25 * 2 * Math.PI);
        if (x === 6) ctx.moveTo(x, yy); else ctx.lineTo(x, yy);
      }
    } else {
      ctx.moveTo(6, y);
      ctx.lineTo(cv.width, y);
    }
    ctx.stroke();
    ctx.fillStyle = st.text;
    ctx.font = '33px "Liberation Sans"';
    ctx.textBaseline = 'alphabetic';
    ctx.fillText(name, 307, y - st.lift);
  });
})();
</script>
</body>
</html>
